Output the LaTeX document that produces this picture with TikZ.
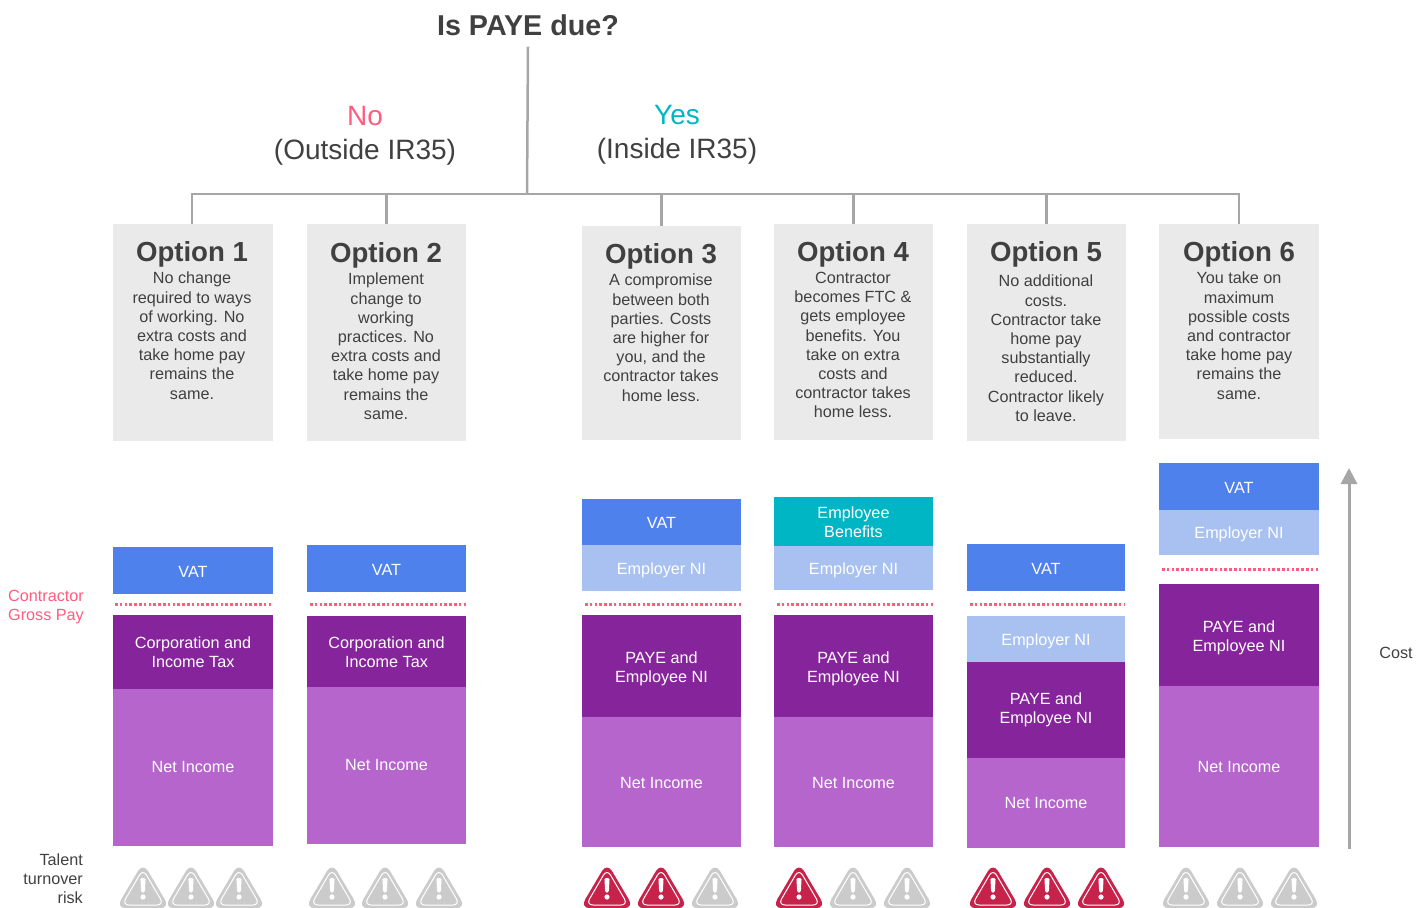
\documentclass[tikz,border=0pt]{standalone}
\usepackage{fontspec}
\setmainfont{Liberation Sans}
\usetikzlibrary{arrows.meta}
\usetikzlibrary{calc}
\definecolor{inktext}{HTML}{404040}
\definecolor{optgray}{HTML}{EAEAEA}
\definecolor{treegray}{HTML}{A6A6A6}
\definecolor{vatblue}{HTML}{4F81EC}
\definecolor{niblue}{HTML}{A9C1F0}
\definecolor{payepurple}{HTML}{86249B}
\definecolor{netpurple}{HTML}{B565CC}
\definecolor{benefitteal}{HTML}{00B6C4}
\definecolor{paypink}{HTML}{FF5C80}
\definecolor{riskred}{HTML}{C6224A}
\definecolor{riskgray}{HTML}{CBCBCB}
\tikzset{
    plaintext/.style={inner sep=0pt, align=center, text=inktext, font=\fontsize{16.2}{19.2}\selectfont},
    headtext/.style={plaintext, font=\fontsize{28}{34}\selectfont},
    optiontitle/.style={plaintext, font=\fontsize{27.6}{34}\bfseries\selectfont},
    optionbody/.style={plaintext, anchor=north},
    sidetext/.style={plaintext, align=right, anchor=east},
    optionbox/.style={fill=optgray, inner sep=0pt},
    blocktext/.style={inner sep=0pt, align=center, text=white, font=\fontsize{16.2}{19.2}\selectfont},
    vatbox/.style={inner sep=0pt, fill=vatblue},
    nibox/.style={inner sep=0pt, fill=niblue},
    payebox/.style={inner sep=0pt, fill=payepurple},
    netbox/.style={inner sep=0pt, fill=netpurple},
    benefitbox/.style={inner sep=0pt, fill=benefitteal},
    treeline/.style={draw=treegray, line width=2.5pt},
    grosspayline/.style={draw=paypink, line width=3pt, dash pattern=on 2.6pt off 2.2pt}
}
% box from its four edges: style, name, left, right, top, bottom
\newcommand{\edgebox}[6]{
    \node[#1, minimum width={(#4-#3)*1pt}, minimum height={(#6-#5)*1pt}] (#2) at ({0.5*(#3+#4)},{0.5*(#5+#6)}) {};
}
% label in a box: box name, drop from its centre, text
\newcommand{\boxlabel}[3]{
    \node[blocktext] (#1text) at ($(#1)+(0,#2)$) {#3};
}
% warning triangle: centre x, colour
\newcommand{\riskicon}[2]{
    \begin{scope}[shift={(#1,888)}]
        \fill[#2, rounded corners=10pt] (0,-25.5) -- (27,20.2) -- (-27,20.2) -- cycle;
        \draw[white, line width=1pt, rounded corners=7pt] (0,-19) -- (21,17) -- (-21,17) -- cycle;
        \fill[white, rounded corners=1.5pt] (-2.6,-10) -- (2.6,-10) -- (1.8,4.5) -- (-1.8,4.5) -- cycle;
        \fill[white] (0,9) circle (2.6);
    \end{scope}
}
\begin{document}
\begin{tikzpicture}[x=1pt, y=-1pt]
    \useasboundingbox (0,0) rectangle (1428,908);
    % heading and the two answers
    \node[headtext, font=\fontsize{28.7}{34}\bfseries\selectfont] (paye) at (528,25) {Is PAYE due?};
    \node[headtext, text=paypink] (no) at (365,116) {No};
    \node[headtext] (outside) at (365,152) {(Outside IR35)};
    \node[headtext, text=benefitteal] (yes) at (677,115) {Yes};
    \node[headtext] (inside) at (677,151) {(Inside IR35)};

    % option boxes
    \edgebox{optionbox}{optone}{113}{273}{224}{441}
    \edgebox{optionbox}{opttwo}{307}{466}{224}{441}
    \edgebox{optionbox}{optthree}{582}{741}{226}{440}
    \edgebox{optionbox}{optfour}{774}{933}{224}{440}
    \edgebox{optionbox}{optfive}{967}{1126}{224}{441}
    \edgebox{optionbox}{optsix}{1159}{1319}{224}{439}

    \node[optiontitle] (titleone) at (192,254) {Option 1};
    \node[optiontitle] (titletwo) at (386,255) {Option 2};
    \node[optiontitle] (titlethree) at (661,256) {Option 3};
    \node[optiontitle] (titlefour) at (853,254) {Option 4};
    \node[optiontitle] (titlefive) at (1046,254) {Option 5};
    \node[optiontitle] (titlesix) at (1239,254) {Option 6};

    \node[optionbody] (textone) at (192,272) {No change\\required to ways\\of working. No\\extra costs and\\take home pay\\remains the\\same.};
    \node[optionbody] (texttwo) at (386,273) {Implement\\change to\\working\\practices. No\\extra costs and\\take home pay\\remains the\\same.};
    \node[optionbody] (textthree) at (661,274) {A compromise\\between both\\parties. Costs\\are higher for\\you, and the\\contractor takes\\home less.};
    \node[optionbody] (textfour) at (853,272) {Contractor\\becomes FTC \&\\gets employee\\benefits. You\\take on extra\\costs and\\contractor takes\\home less.};
    \node[optionbody] (textfive) at (1046,275) {No additional\\costs.\\Contractor take\\home pay\\substantially\\reduced.\\Contractor likely\\to leave.};
    \node[optionbody] (textsix) at (1239,272) {You take on\\maximum\\possible costs\\and contractor\\take home pay\\remains the\\same.};

    % tree above the option boxes
    \coordinate (trunk) at (527,194);
    \draw[treeline] (paye.south -| trunk) ++(1,11) -- (trunk);
    \draw[treeline] (optone.north -| titleone) |- (trunk) -| (optsix.north);
    \foreach \optname in {opttwo,optthree,optfour,optfive}{
        \draw[treeline] (\optname.north) -- (\optname.north |- trunk);
    }

    % pay stacks
    \edgebox{vatbox}{vatone}{113}{273}{547}{594}
    \edgebox{payebox}{corpone}{113}{273}{615}{689}
    \edgebox{netbox}{netone}{113}{273}{689}{846}
    \boxlabel{vatone}{1}{VAT}
    \boxlabel{corpone}{0}{Corporation and\\Income Tax}
    \boxlabel{netone}{-1}{Net Income}

    \edgebox{vatbox}{vattwo}{307}{466}{545}{592}
    \edgebox{payebox}{corptwo}{307}{466}{616}{687}
    \edgebox{netbox}{nettwo}{307}{466}{687}{844}
    \boxlabel{vattwo}{1}{VAT}
    \boxlabel{corptwo}{1}{Corporation and\\Income Tax}
    \boxlabel{nettwo}{-1}{Net Income}

    \edgebox{vatbox}{vatthree}{582}{741}{499}{545}
    \edgebox{nibox}{nithree}{582}{741}{545}{591}
    \edgebox{payebox}{payethree}{582}{741}{615}{717}
    \edgebox{netbox}{netthree}{582}{741}{717}{847}
    \boxlabel{vatthree}{1}{VAT}
    \boxlabel{nithree}{2}{Employer NI}
    \boxlabel{payethree}{3}{PAYE and\\Employee NI}
    \boxlabel{netthree}{1}{Net Income}

    \edgebox{benefitbox}{benefitfour}{774}{933}{497}{546}
    \edgebox{nibox}{nifour}{774}{933}{546}{590}
    \edgebox{payebox}{payefour}{774}{933}{615}{717}
    \edgebox{netbox}{netfour}{774}{933}{717}{847}
    \boxlabel{benefitfour}{0.5}{Employee\\Benefits}
    \boxlabel{nifour}{2}{Employer NI}
    \boxlabel{payefour}{3}{PAYE and\\Employee NI}
    \boxlabel{netfour}{1}{Net Income}

    \edgebox{vatbox}{vatfive}{967}{1125}{544}{591}
    \edgebox{nibox}{nifive}{967}{1125}{616}{662}
    \edgebox{payebox}{payefive}{967}{1125}{662}{758}
    \edgebox{netbox}{netfive}{967}{1125}{758}{848}
    \boxlabel{vatfive}{1}{VAT}
    \boxlabel{nifive}{2}{Employer NI}
    \boxlabel{payefive}{0}{PAYE and\\Employee NI}
    \boxlabel{netfive}{0}{Net Income}

    \edgebox{vatbox}{vatsix}{1159}{1319}{463}{510}
    \edgebox{nibox}{nisix}{1159}{1319}{510}{555}
    \edgebox{payebox}{payesix}{1159}{1319}{584}{686}
    \edgebox{netbox}{netsix}{1159}{1319}{686}{847}
    \boxlabel{vatsix}{1}{VAT}
    \boxlabel{nisix}{2}{Employer NI}
    \boxlabel{payesix}{3}{PAYE and\\Employee NI}
    \boxlabel{netsix}{0}{Net Income}

    % gross pay lines
    \draw[grosspayline] (115,604) -- (273,604);
    \draw[grosspayline] (310,604) -- (466,604);
    \draw[grosspayline] (585,604) -- (741,604);
    \draw[grosspayline] (777,604) -- (933,604);
    \draw[grosspayline] (970,604) -- (1125,604);
    \draw[grosspayline] (1162,569) -- (1319,569);

    % side labels
    \node[sidetext, text=paypink] (grosspay) at (84,607) {Contractor\\Gross Pay};
    \node[sidetext] (talent) at (83,878.5) {Talent\\turnover\\risk};
    \node[plaintext] (cost) at (1396,653) {Cost};
    \coordinate (costlow) at (1349,849);
    \coordinate (costhigh) at (1349,468);
    \draw[draw=treegray, line width=3pt, -{Triangle[length=16pt, width=16pt]}] (costlow) -- (costhigh);

    % talent risk
    \foreach \iconx in {143,191,239,332,385,439,715,853,907,1186,1240,1294}{
        \riskicon{\iconx}{riskgray}
    }
    \foreach \iconx in {607,661,799,993,1047,1101}{
        \riskicon{\iconx}{riskred}
    }
\end{tikzpicture}
\end{document}
